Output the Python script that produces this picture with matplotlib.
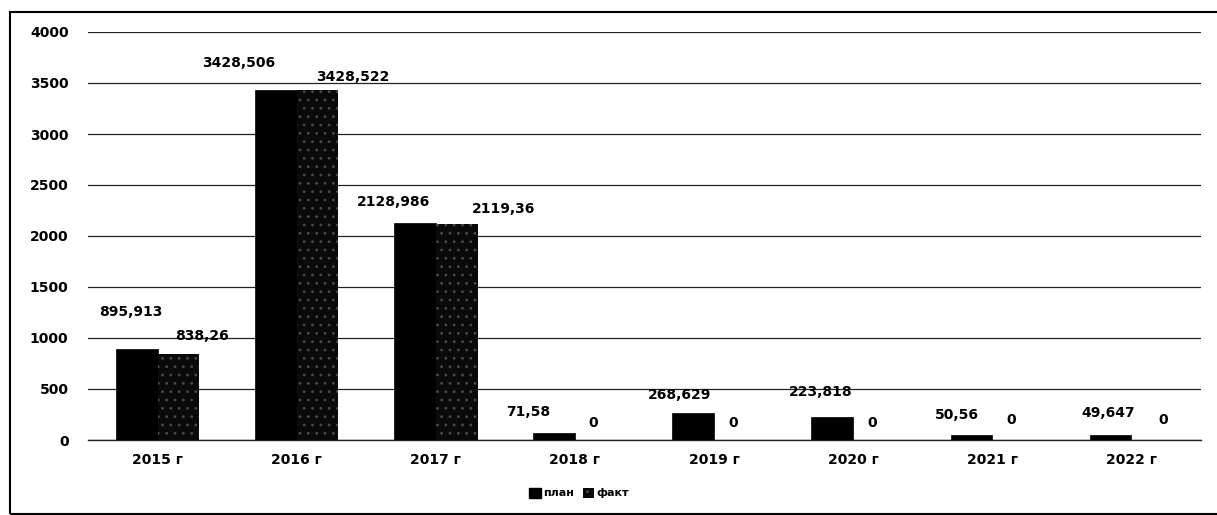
import matplotlib
matplotlib.use("Agg")
import matplotlib.pyplot as plt
from matplotlib.patches import Rectangle, Patch
import numpy as np

categories = ["2015 г", "2016 г", "2017 г", "2018 г", "2019 г", "2020 г", "2021 г", "2022 г"]
plan = [895.913, 3428.506, 2128.986, 71.58, 268.629, 223.818, 50.56, 49.647]
fact = [838.26, 3428.522, 2119.36, 0, 0, 0, 0, 0]
plan_labels = ["895,913", "3428,506", "2128,986", "71,58", "268,629", "223,818", "50,56", "49,647"]
fact_labels = ["838,26", "3428,522", "2119,36", "0", "0", "0", "0", "0"]
y_ticks = [0, 500, 1000, 1500, 2000, 2500, 3000, 3500, 4000]

# label offsets (pixels) relative to bar top centre
plan_off = [(-6, 37), (-37, 27), (-21, 21), (-26, 21), (-14, 18), (-12, 25), (-15, 20), (-2, 22)]
fact_off = [(24, 18), (35, 13), (47, 15), (-3, 17), (-2, 17), (-2, 17), (-2, 20), (11, 20)]

plt.rcParams['font.family'] = ['DejaVu Sans']
plt.rcParams['hatch.linewidth'] = 0.8
plt.rcParams['hatch.color'] = '#4a4a4a'

W, H = 1217, 515
fig = plt.figure(figsize=(W / 100, H / 100), dpi=100)
ax = fig.add_axes([88 / W, 1 - 440 / H, (1201 - 88) / W, (440 - 32) / H])

x = np.arange(len(categories))
bw = 0.3
ax.bar(x - bw / 2, plan, bw, color='black', edgecolor='black', linewidth=0.5, zorder=3)
ax.bar(x + bw / 2, fact, bw, color='#0a0a0a', edgecolor='#4a4a4a', linewidth=0, hatch='..', zorder=3)

ax.set_xlim(-0.5, len(categories) - 0.5)
ax.set_ylim(0, 4000)
ax.set_yticks(y_ticks)
ax.set_yticklabels([str(v) for v in y_ticks], fontsize=10, fontweight='bold')
ax.set_xticks(x)
ax.set_xticklabels(categories, fontsize=10, fontweight='bold')
ax.tick_params(axis='y', length=0, pad=14)
ax.tick_params(axis='x', length=0, pad=9)
for s in ax.spines.values():
    s.set_visible(False)
ax.yaxis.grid(True, color='#222222', linewidth=0.9, zorder=0)
ax.set_axisbelow(True)
ax.axhline(0, color='#222222', linewidth=1.0, zorder=2, clip_on=False)

for i in range(len(categories)):
    ax.annotate(plan_labels[i], xy=(x[i] - bw / 2, plan[i]), xytext=plan_off[i],
                textcoords='offset pixels', ha='center', va='center',
                fontsize=10, fontweight='bold', zorder=5)
    ax.annotate(fact_labels[i], xy=(x[i] + bw / 2, fact[i]), xytext=fact_off[i],
                textcoords='offset pixels', ha='center', va='center',
                fontsize=10, fontweight='bold', zorder=5)

handles = [Patch(facecolor='black', edgecolor='black'),
           Patch(facecolor='#0a0a0a', edgecolor='#4a4a4a', hatch='..', linewidth=0)]
fig.legend(handles, ['план', 'факт'], loc='center', bbox_to_anchor=(579 / W, 1 - 493 / H),
           ncol=2, frameon=False, prop={'weight': 'bold', 'size': 8},
           handlelength=1.0, handleheight=1.0, handletextpad=0.2, columnspacing=0.8)

frame = Rectangle((10 / W, 1 - 514 / H), (1240 - 10) / W, (514 - 12) / H,
                  transform=fig.transFigure, fill=False, edgecolor='black', linewidth=1.5)
fig.patches.append(frame)

fig.savefig('out.png', dpi=100, facecolor='white')
